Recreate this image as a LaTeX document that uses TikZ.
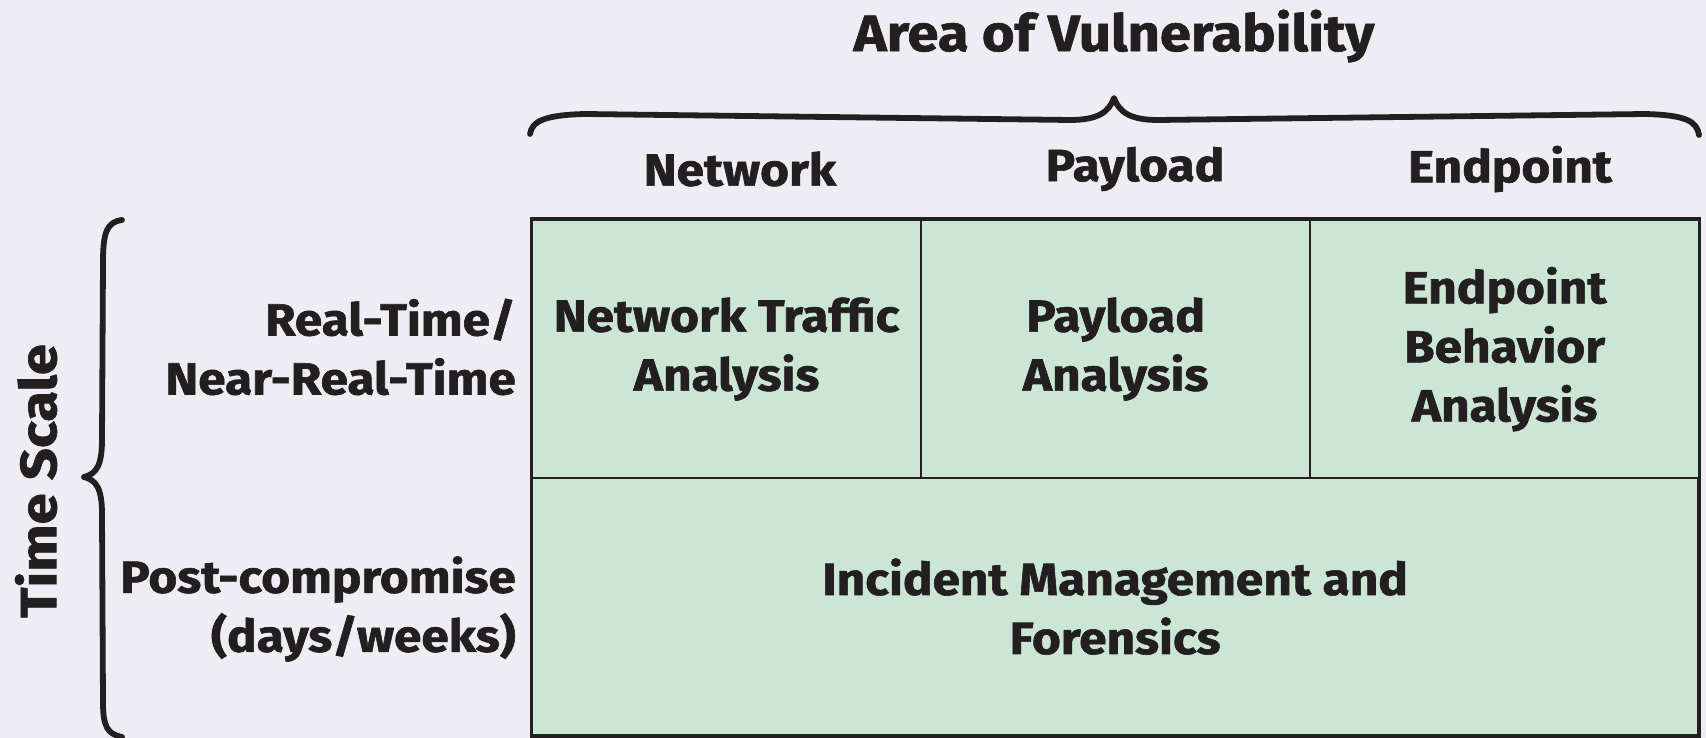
\documentclass[tikz,border=0pt]{standalone}
\usepackage{fontspec}
\setmainfont{Fira Sans}[BoldFont={Fira Sans Bold}, BoldFeatures={FakeStretch=1.1, FakeBold=1.3}]
\definecolor{bgc}{RGB}{238,237,243}
\definecolor{cellc}{RGB}{203,230,212}
\definecolor{ink}{RGB}{35,31,32}
\begin{document}
\begin{tikzpicture}[x=1pt,y=-1pt,
  font=\bfseries\fontsize{45}{59}\selectfont, text=ink,
  cell/.style={draw=ink, line width=2.2pt, fill=cellc, anchor=north west, inner sep=0pt, align=center, minimum width=389pt, minimum height=258pt},
  lbl/.style={align=right, anchor=east, inner sep=0pt},
  hdr/.style={inner sep=0pt},
  big/.style={inner sep=0pt, font=\bfseries\fontsize{51}{60}\selectfont},
  bracepath/.style={draw=ink, line width=5.8pt, line cap=round, line join=round}]
\fill[bgc] (0,0) rectangle (1706,738);
\useasboundingbox (0,0) rectangle (1706,738);

% title and brace
\node[big] (title) at (1114,36) {Area of Vulnerability};
\draw[bracepath] (530,134) .. controls (532,121) and (545,115) .. (585,114) -- (1070,120) .. controls (1098,120) and (1109,112) .. (1114,98) .. controls (1119,112) and (1130,120) .. (1158,120) -- (1645,114) .. controls (1685,115) and (1697,121) .. (1699,135);

% column headers
\node[hdr] (hnet) at (740,169) {Network};
\node[hdr] (hpay) at (1135,169) {Payload};
\node[hdr] (hend) at (1510,169) {Endpoint};

% cells
\node[cell] (nta) at (531,219) {Network Traffic\\Analysis};
\node[cell] (pa) at (920,219) {Payload\\Analysis};
\node[cell] (eba) at (1309,219) {Endpoint\\Behavior\\Analysis};
\node[cell, minimum width=1166pt, minimum height=257pt] (imf) at (531,477) {Incident Management and\\Forensics};
\draw[ink, line width=3pt] (nta.north west) rectangle (imf.south east);

% row labels
\node[lbl] (rt) at (516,347) {Real-Time/\\Near-Real-Time};
\node[lbl] (pc) at (516,609) {Post-compromise\\(days/weeks)};

% left brace and label
\draw[bracepath] (122,220) .. controls (107,222) and (103,232) .. (103,262) -- (102,440) .. controls (102,466) and (96,474) .. (84,477) .. controls (96,480) and (102,488) .. (102,514) -- (103,702) .. controls (103,726) and (107,734) .. (122,737);
\node[big, rotate=90] (ts) at (36,481) {Time Scale};
\end{tikzpicture}
\end{document}
